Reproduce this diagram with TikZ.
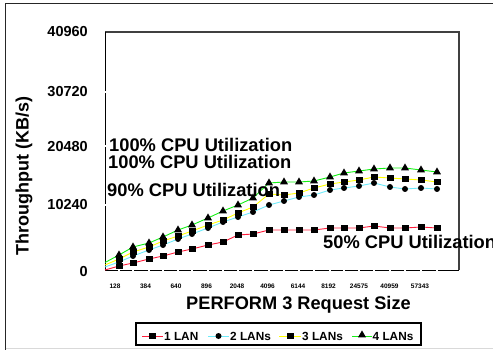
\documentclass[tikz,border=0pt]{standalone}
\usepackage{fontspec}
\setmainfont{Liberation Sans}
\usetikzlibrary{shapes.geometric, positioning}

\definecolor{lanred}{RGB}{255,30,60}
\definecolor{lancyan}{RGB}{110,235,250}
\definecolor{lanyellow}{RGB}{255,255,0}
\definecolor{langreen}{RGB}{20,240,20}

% data points (pixel positions of the chart)
\newcommand{\dataone}{119/266,133/263,149/259,163/256,178/252,192/249,208/245,223/242,238/235,253/234,269/230,284/230,299/230,314/230,330/228,344/228,359/228,374/226,390/228,405/228,421/227,437/228}
\newcommand{\datatwo}{119/262,133/256,149/250,163/245,178/239,192/234,208/228,223/222,238/217,253/212,269/205,284/201,299/197,314/195,330/190,344/188,359/186,374/183,390/187,405/189,421/188,437/189}
\newcommand{\datathree}{119/259,133/252,149/247,163/241,178/236,192/231,208/225,223/220,238/213,253/207,269/194,284/195,299/193,314/188,330/184,344/182,359/180,374/177,390/178,405/179,421/180,437/182}
\newcommand{\datafour}{119/255,133/247,149/243,163/237,178/230,192/225,208/218,223/211,238/205,253/198,269/183,284/182,299/182,314/181,330/177,344/173,359/171,374/169,390/168,405/168,421/170,437/172}

\begin{document}
\begin{tikzpicture}[x=1pt, y=-1pt,
    sq/.style={rectangle, fill=black, inner sep=0pt, minimum width=7pt, minimum height=5.5pt},
    dot/.style={circle, fill=black, inner sep=0pt, minimum size=6pt},
    tri/.style={regular polygon, regular polygon sides=3, fill=black, inner sep=0pt, minimum size=9.2pt},
    ann/.style={font=\fontsize{18.3}{20}\selectfont\bfseries, inner sep=0pt, anchor=base west},
    ytick/.style={font=\fontsize{14.5}{16}\selectfont\bfseries, inner sep=0pt, anchor=east},
    xtick/.style={font=\fontsize{6.5}{8}\selectfont\bfseries, inner sep=0pt},
    legtext/.style={font=\fontsize{11.8}{13}\selectfont\bfseries, inner sep=0pt, anchor=west},
    series/.style={line width=0.9pt}
]
    \useasboundingbox (0,0) rectangle (493,350);

    % outer frame
    \draw[black!85, line width=1.2pt] (5.5,350) -- (5.5,3.5) -- (493,3.5);
    \draw[black!15, line width=1pt] (5.5,348) -- (493,348);

    % plot area
    \draw[black!75, line width=1.2pt] (105,32) -- (459,32) -- (459,270);
    \draw[line width=1pt] (105,32) -- (105,270) -- (459,270);
    \foreach \x/\y in \dataone
        \draw[white, line width=1.3pt] (\x,268.5) -- (\x,271.5);
    \foreach \y in {92,146,205}
        \draw[white, line width=1.3pt] (103.5,\y) -- (106.5,\y);

    % axis labels
    \foreach \v/\y in {0/272, 10240/205, 20480/147, 30720/92, 40960/31.5}
        \node[ytick] at (88,\y) {\v};
    \foreach \t [count=\k from 0] in {128,384,640,896,2048,4096,6144,8192,24575,40959,57343}
        \node[xtick] at ({115+30.5*\k},286) {\t};
    \node[font=\fontsize{18}{20}\selectfont\bfseries, rotate=90, inner sep=0pt] (ytitle) at (24,176) {Throughput (KB/s)};
    \node[font=\fontsize{18.2}{20}\selectfont\bfseries, inner sep=0pt, anchor=base] (xtitle) at (298.5,309) {PERFORM 3 Request Size};

    % series
    \draw[series, lanred] (105,270) \foreach \x/\y in \dataone {-- (\x,\y)};
    \foreach \x/\y in \dataone \node[sq] at (\x,\y) {};
    \draw[series, lancyan] (105,267) \foreach \x/\y in \datatwo {-- (\x,\y)};
    \foreach \x/\y in \datatwo \node[dot] at (\x,\y) {};
    \draw[series, lanyellow] (105,265) \foreach \x/\y in \datathree {-- (\x,\y)};
    \foreach \x/\y in \datathree \node[sq] at (\x,\y) {};
    \draw[series, langreen] (105,262.5) \foreach \x/\y in \datafour {-- (\x,\y)};
    \foreach \x/\y in \datafour \node[tri] at (\x,\y) {};

    % utilization notes
    \node[ann] (cpufour) at (109,152) {100\% CPU Utilization};
    \node[ann] (cputhree) at (108,168) {100\% CPU Utilization};
    \node[ann] (cputwo) at (107,196.5) {90\% CPU Utilization};
    \node[ann] (cpuone) at (323,248) {50\% CPU Utilization};

    % legend
    \draw[line width=1.2pt] (136,323) rectangle (421,345);
    \draw[series, lanred] (142,336) -- (163,336);
    \node[sq] at (152.5,336) {};
    \node[legtext] (legone) at (164,336.5) {1 LAN};
    \draw[series, lancyan] (208,336) -- (229,336);
    \node[dot] at (218.5,336) {};
    \node[legtext] (legtwo) at (230,336.5) {2 LANs};
    \draw[series, lanyellow] (279,336) -- (301,336);
    \node[sq] at (290,336) {};
    \node[legtext] (legthree) at (302,336.5) {3 LANs};
    \draw[series, langreen] (352,336) -- (372,336);
    \node[tri] at (362,335) {};
    \node[legtext] (legfour) at (372.5,336.5) {4 LANs};
\end{tikzpicture}
\end{document}
